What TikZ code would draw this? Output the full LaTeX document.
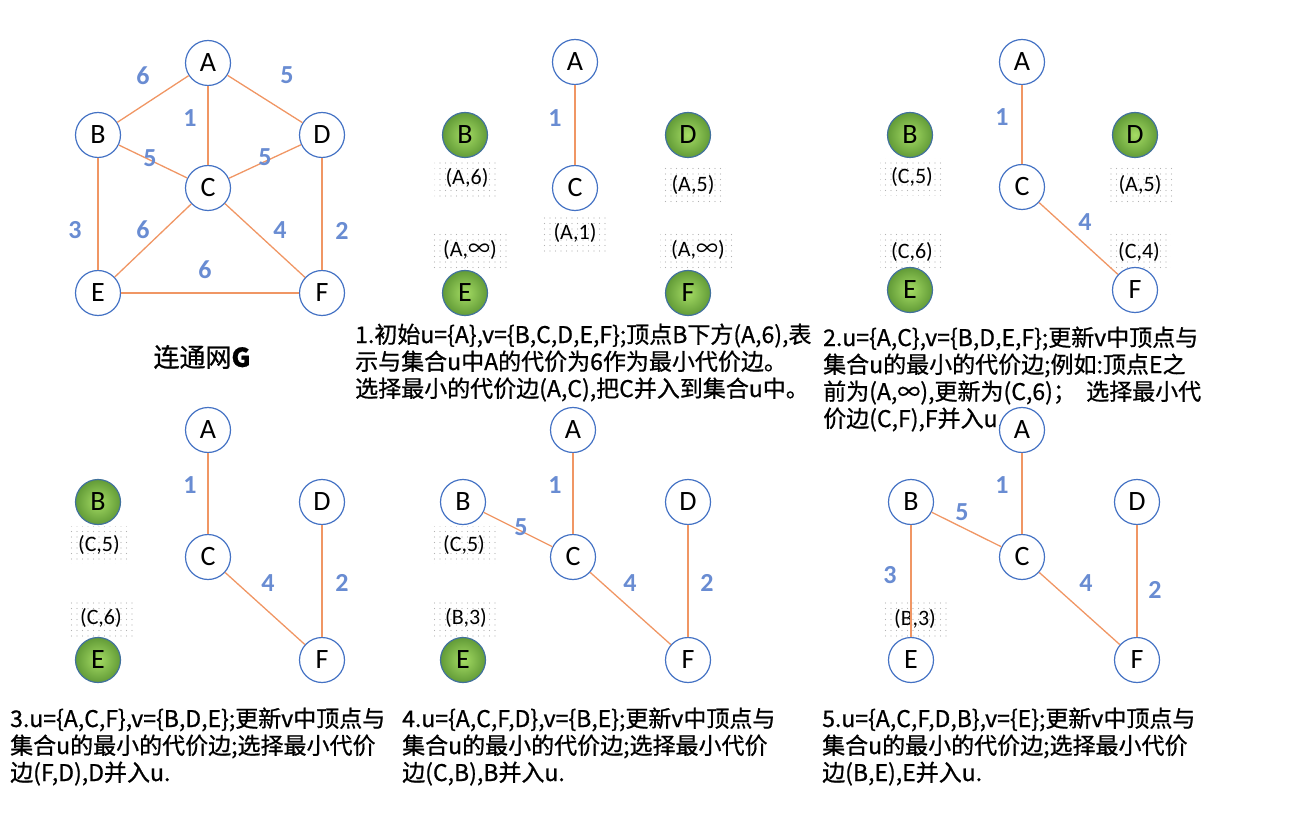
\documentclass[tikz,border=0pt]{standalone}
\usepackage{fontspec}
\setmainfont{Carlito}
\newfontfamily\cjk{Noto Sans CJK SC}
\newfontfamily\cjkb[FakeBold=0.8]{Noto Sans CJK SC}
\usetikzlibrary{patterns.meta}
\definecolor{vb}{RGB}{68,114,196}
\definecolor{eo}{RGB}{240,150,100}
\definecolor{wb}{RGB}{105,140,210}
\definecolor{gin}{RGB}{165,220,100}
\definecolor{gout}{RGB}{98,155,55}
\definecolor{gbd}{RGB}{65,113,156}
\tikzset{
  vtx/.style={circle, draw=vb, line width=1.2pt, fill=white, minimum size=45pt, inner sep=0pt,
    font=\fontsize{28}{28}\selectfont},
  gvtx/.style={circle, draw=gbd, line width=1.2pt, inner color=gin, outer color=gout, minimum size=45pt, inner sep=0pt,
    font=\fontsize{28}{28}\selectfont},
  edge/.style={draw=eo, line width=1.3pt},
  wt/.style={text=wb, font=\bfseries\fontsize{26}{26}\selectfont, inner sep=0pt},
  lbl/.style={pattern={Dots[distance=5.5pt,radius=0.6pt]}, pattern color=black!30, inner xsep=11pt, inner ysep=9pt,
    font=\fontsize{22}{22}\selectfont},
  captxt/.style={align=left, inner sep=0pt, anchor=base west, font=\cjkb\fontsize{23}{27}\selectfont},
}
\newcommand{\inff}{{\cjk ∞}}
\begin{document}
\begin{tikzpicture}[x=1pt,y=-1pt]
\useasboundingbox (0,0) rectangle (1312,834);

% ---------------- main graph
\node[vtx] (gA) at (208,63) {A};
\node[vtx] (gB) at (98,135) {B};
\node[vtx] (gD) at (322,135) {D};
\node[vtx] (gC) at (208,188) {C};
\node[vtx] (gE) at (98,293) {E};
\node[vtx] (gF) at (322,293) {F};
\draw[edge] (gA) -- (gB);
\draw[edge] (gA) -- (gD);
\draw[edge] (gA) -- (gC);
\draw[edge] (gB) -- (gC);
\draw[edge] (gD) -- (gC);
\draw[edge] (gB) -- (gE);
\draw[edge] (gC) -- (gE);
\draw[edge] (gC) -- (gF);
\draw[edge] (gD) -- (gF);
\draw[edge] (gE) -- (gF);
\node[wt] (gw1) at (143,76) {6};
\node[wt] (gw2) at (287,75) {5};
\node[wt] (gw3) at (190,118) {1};
\node[wt] (gw4) at (150,158) {5};
\node[wt] (gw5) at (265,157) {5};
\node[wt] (gw6) at (75,230) {3};
\node[wt] (gw7) at (143,230) {6};
\node[wt] (gw8) at (280,230) {4};
\node[wt] (gw9) at (342,231) {2};
\node[wt] (gw10) at (205,270) {6};
\node[font=\cjkb\fontsize{26}{26}\selectfont] (gtitle) at (202,357) {连通网{\bfseries G}};

% ---------------- panel 1
\node[lbl] (l1B) at (467,178) {(A,6)};
\node[lbl] (l1D) at (693,185) {(A,5)};
\node[lbl] (l1C) at (575,233) {(A,1)};
\node[lbl] (l1E) at (470,250) {(A,\inff)};
\node[lbl] (l1F) at (698,250) {(A,\inff)};
\node[vtx] (p1A) at (575,62) {A};
\node[vtx] (p1C) at (575,188) {C};
\node[gvtx] (p1B) at (465,135) {B};
\node[gvtx] (p1D) at (688,135) {D};
\node[gvtx] (p1E) at (465,293) {E};
\node[gvtx] (p1F) at (688,293) {F};
\draw[edge] (p1A) -- (p1C);
\node[wt] (p1w1) at (555,118) {1};
\node[captxt] (cap1) at (355,397) {1.初始u=\{A\},v=\{B,C,D,E,F\};顶点B下方(A,6),表\\示与集合u中A的代价为6作为最小代价边。\\选择最小的代价边(A,C),把C并入到集合u中。};

% ---------------- panel 2
\node[lbl] (l2B) at (912,177) {(C,5)};
\node[lbl] (l2D) at (1140,185) {(A,5)};
\node[lbl] (l2E) at (912,252) {(C,6)};
\node[lbl] (l2F) at (1139,252) {(C,4)};
\node[vtx] (p2A) at (1022,62) {A};
\node[vtx] (p2C) at (1022,187) {C};
\node[gvtx] (p2B) at (910,135) {B};
\node[gvtx] (p2D) at (1135,135) {D};
\node[gvtx] (p2E) at (910,290) {E};
\node[vtx] (p2F) at (1135,290) {F};
\draw[edge] (p2A) -- (p2C);
\draw[edge] (p2C) -- (p2F);
\node[wt] (p2w1) at (1002,117) {1};
\node[wt] (p2w2) at (1085,222) {4};
\node[captxt] (cap2) at (823,427) {2.u=\{A,C\},v=\{B,D,E,F\};更新v中顶点与\\集合u的最小的代价边;例如:顶点E之\\前为(A,∞),更新为(C,6)；\ \ 选择最小代\\价边(C,F),F并入u.};

% ---------------- panel 3
\node[lbl] (l3B) at (99,545) {(C,5)};
\node[lbl] (l3E) at (101,618) {(C,6)};
\node[vtx] (p3A) at (208,430) {A};
\node[vtx] (p3C) at (208,557) {C};
\node[gvtx] (p3B) at (98,502) {B};
\node[vtx] (p3D) at (322,502) {D};
\node[gvtx] (p3E) at (98,660) {E};
\node[vtx] (p3F) at (322,660) {F};
\draw[edge] (p3A) -- (p3C);
\draw[edge] (p3C) -- (p3F);
\draw[edge] (p3D) -- (p3F);
\node[wt] (p3w1) at (190,485) {1};
\node[wt] (p3w2) at (268,583) {4};
\node[wt] (p3w3) at (342,583) {2};
\node[captxt] (cap3) at (10,781) {3.u=\{A,C,F\},v=\{B,D,E\};更新v中顶点与\\集合u的最小的代价边;选择最小代价\\边(F,D),D并入u.};

% ---------------- panel 4
\node[lbl] (l4B) at (464,545) {(C,5)};
\node[lbl] (l4E) at (466,618) {(B,3)};
\node[vtx] (p4A) at (573,430) {A};
\node[vtx] (p4C) at (573,557) {C};
\node[vtx] (p4B) at (463,502) {B};
\node[vtx] (p4D) at (688,502) {D};
\node[gvtx] (p4E) at (463,660) {E};
\node[vtx] (p4F) at (688,660) {F};
\draw[edge] (p4A) -- (p4C);
\draw[edge] (p4B) -- (p4C);
\draw[edge] (p4C) -- (p4F);
\draw[edge] (p4D) -- (p4F);
\node[wt] (p4w1) at (555,485) {1};
\node[wt] (p4w2) at (521,527) {5};
\node[wt] (p4w3) at (630,583) {4};
\node[wt] (p4w4) at (707,583) {2};
\node[captxt] (cap4) at (402,781) {4.u=\{A,C,F,D\},v=\{B,E\};更新v中顶点与\\集合u的最小的代价边;选择最小代价\\边(C,B),B并入u.};

% ---------------- panel 5
\node[lbl] (l5E) at (915,619) {(B,3)};
\node[vtx] (p5A) at (1022,430) {A};
\node[vtx] (p5C) at (1022,557) {C};
\node[vtx] (p5B) at (911,502) {B};
\node[vtx] (p5D) at (1137,502) {D};
\node[vtx] (p5E) at (911,660) {E};
\node[vtx] (p5F) at (1137,660) {F};
\draw[edge] (p5A) -- (p5C);
\draw[edge] (p5B) -- (p5C);
\draw[edge] (p5B) -- (p5E);
\draw[edge] (p5C) -- (p5F);
\draw[edge] (p5D) -- (p5F);
\node[wt] (p5w1) at (1002,485) {1};
\node[wt] (p5w2) at (962,512) {5};
\node[wt] (p5w3) at (890,575) {3};
\node[wt] (p5w4) at (1086,583) {4};
\node[wt] (p5w5) at (1155,590) {2};
\node[captxt] (cap5) at (822,781) {5.u=\{A,C,F,D,B\},v=\{E\};更新v中顶点与\\集合u的最小的代价边;选择最小代价\\边(B,E),E并入u.};
\end{tikzpicture}
\end{document}
